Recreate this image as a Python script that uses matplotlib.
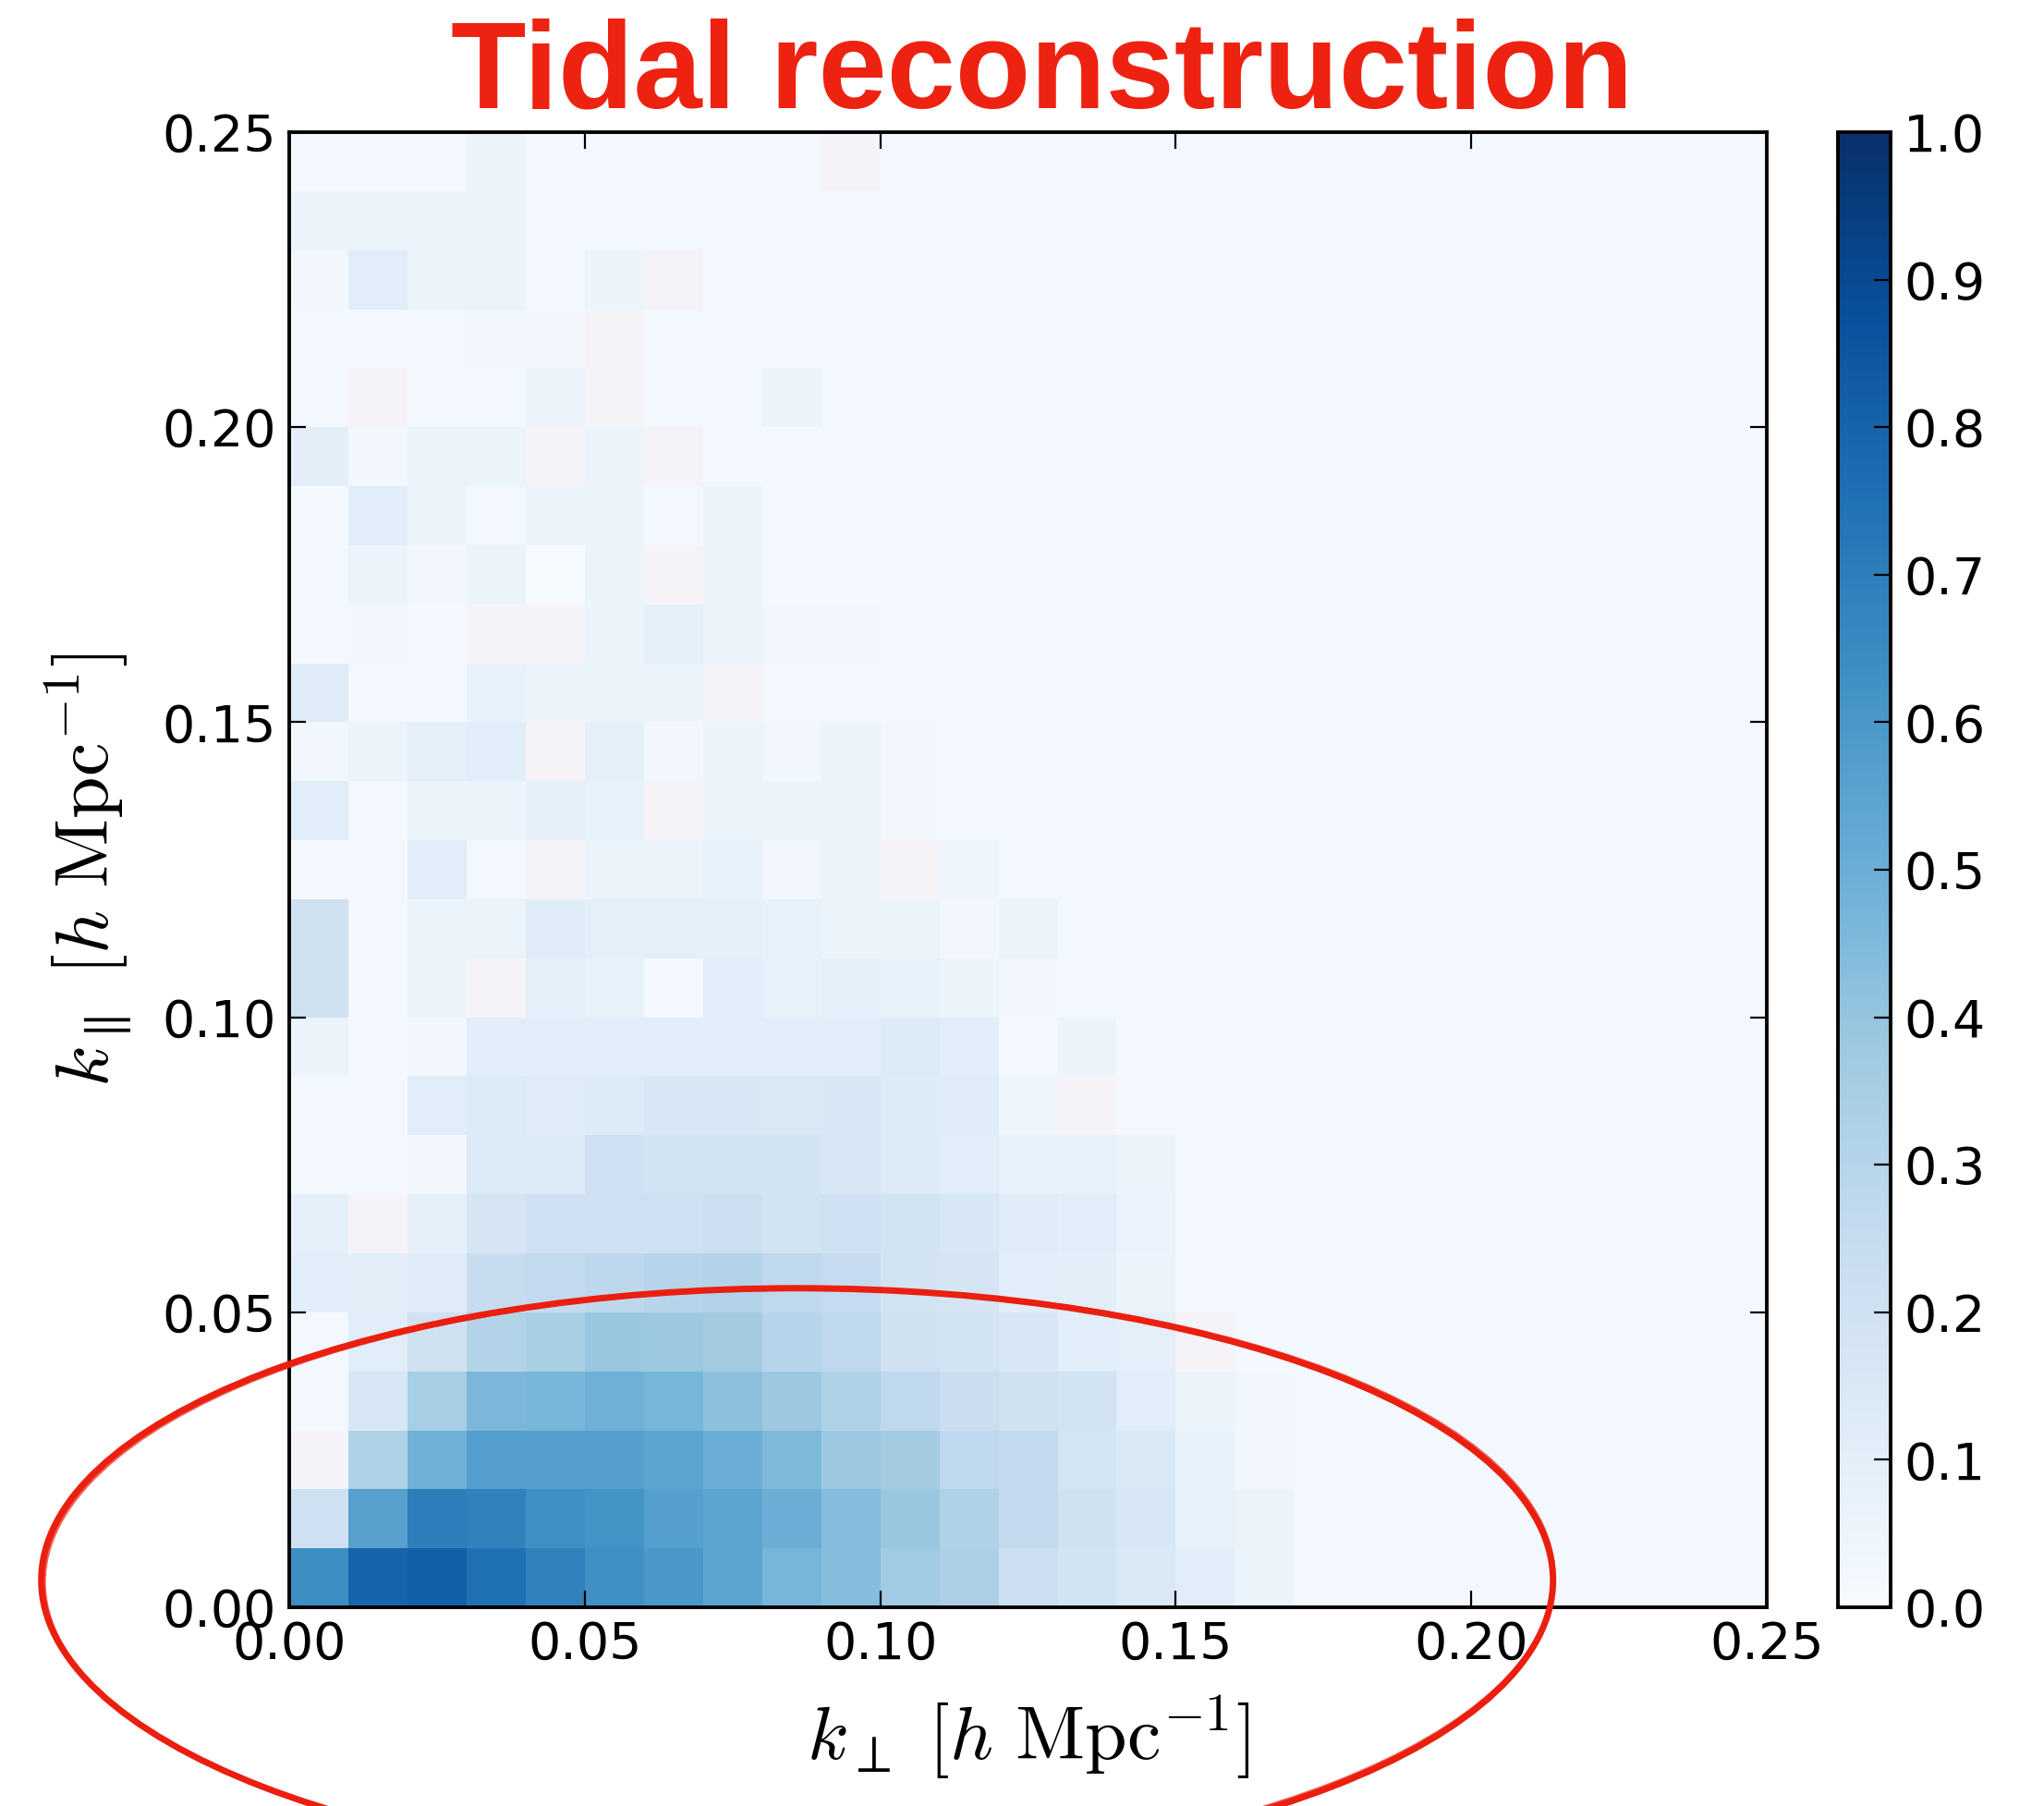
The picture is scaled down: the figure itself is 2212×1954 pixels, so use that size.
import numpy as np
import matplotlib
matplotlib.use('Agg')
import matplotlib.pyplot as plt
from matplotlib.patches import Ellipse

#==========================================
# Datos: correlación por celda (k_par, k_perp).
# Cada fila empieza en k_perp = 0; lo que falta es fondo.
#==========================================

k_bordes = np.arange(0, 0.2501, 0.01)
fondo = 0.02

fila_00 = [0.64, 0.80, 0.82, 0.75, 0.69, 0.63, 0.60, 0.54, 0.47, 0.43, 0.37, 0.33, 0.22, 0.19, 0.15, 0.11, 0.06]
fila_01 = [0.21, 0.56, 0.70, 0.69, 0.63, 0.62, 0.57, 0.54, 0.50, 0.43, 0.39, 0.32, 0.26, 0.20, 0.16, 0.08, 0.06]
fila_02 = [-0.02, 0.32, 0.49, 0.57, 0.57, 0.57, 0.54, 0.50, 0.45, 0.38, 0.36, 0.27, 0.26, 0.18, 0.15, 0.08, 0.03]
fila_03 = [0.02, 0.16, 0.35, 0.46, 0.47, 0.49, 0.47, 0.42, 0.38, 0.32, 0.27, 0.23, 0.20, 0.19, 0.11, 0.06, 0.03]
fila_04 = [0.02, 0.11, 0.20, 0.31, 0.34, 0.39, 0.38, 0.36, 0.30, 0.27, 0.20, 0.19, 0.16, 0.11, 0.09, -0.02]
fila_05 = [0.11, 0.10, 0.12, 0.24, 0.26, 0.28, 0.30, 0.31, 0.27, 0.25, 0.19, 0.17, 0.11, 0.10, 0.06]
fila_06 = [0.09, -0.02, 0.09, 0.17, 0.21, 0.21, 0.21, 0.22, 0.19, 0.21, 0.19, 0.16, 0.12, 0.11, 0.07]
fila_07 = [0.02, 0.02, 0.03, 0.14, 0.14, 0.21, 0.19, 0.19, 0.19, 0.16, 0.13, 0.11, 0.08, 0.08, 0.06]
fila_08 = [0.02, 0.02, 0.11, 0.14, 0.12, 0.13, 0.16, 0.16, 0.15, 0.16, 0.13, 0.12, 0.05, -0.02]
fila_09 = [0.06, 0.02, 0.03, 0.11, 0.11, 0.11, 0.11, 0.11, 0.11, 0.11, 0.14, 0.11, 0.02, 0.06]
fila_10 = [0.20, 0.02, 0.06, -0.02, 0.09, 0.08, 0.02, 0.11, 0.08, 0.09, 0.08, 0.06, 0.03]
fila_11 = [0.20, 0.02, 0.06, 0.06, 0.12, 0.09, 0.09, 0.09, 0.08, 0.06, 0.06, 0.03, 0.06]
fila_12 = [0.02, 0.02, 0.11, 0.02, -0.02, 0.06, 0.06, 0.08, 0.03, 0.06, -0.02, 0.05]
fila_13 = [0.11, 0.02, 0.06, 0.06, 0.09, 0.08, -0.02, 0.06, 0.06, 0.06, 0.03]
fila_14 = [0.03, 0.06, 0.09, 0.11, -0.02, 0.09, 0.03, 0.06, 0.03, 0.06, 0.03]
fila_15 = [0.12, 0.02, 0.02, 0.08, 0.06, 0.06, 0.06, -0.02]
fila_16 = [0.02, 0.03, 0.02, -0.02, -0.02, 0.06, 0.09, 0.06, 0.03, 0.03]
fila_17 = [0.02, 0.06, 0.03, 0.06, 0.01, 0.06, -0.02, 0.06]
fila_18 = [0.02, 0.11, 0.06, 0.02, 0.06, 0.06, 0.02, 0.06]
fila_19 = [0.10, 0.03, 0.06, 0.06, -0.02, 0.06, -0.02]
fila_20 = [0.02, -0.02, 0.02, 0.02, 0.06, -0.02, 0.02, 0.02, 0.06]
fila_21 = [0.02, 0.02, 0.02, 0.03, 0.03, -0.02]
fila_22 = [0.03, 0.11, 0.06, 0.06, 0.02, 0.06, -0.02]
fila_23 = [0.06, 0.06, 0.06, 0.06]
fila_24 = [0.02, 0.02, 0.02, 0.06, 0.02, 0.02, 0.02, 0.02, 0.02, -0.02]

filas = [fila_00, fila_01, fila_02, fila_03, fila_04, fila_05, fila_06, fila_07,
         fila_08, fila_09, fila_10, fila_11, fila_12, fila_13, fila_14, fila_15,
         fila_16, fila_17, fila_18, fila_19, fila_20, fila_21, fila_22, fila_23, fila_24]

cb_ticks = [0.0, 0.1, 0.2, 0.3, 0.4, 0.5, 0.6, 0.7, 0.8, 0.9, 1.0]
ejes_ticks = [0.00, 0.05, 0.10, 0.15, 0.20, 0.25]

#==================
# Matriz completa.
#==================

n = len(k_bordes) - 1
correlacion = np.full((n, n), fondo)
for i, fila in enumerate(filas):
    correlacion[i, :len(fila)] = fila

#==========
# Gráfica.
#==========

plt.rcParams['mathtext.fontset'] = 'cm'
plt.rcParams['font.family'] = 'DejaVu Sans'

fig = plt.figure(figsize=(22.12, 19.54), dpi=100)
ax = fig.add_axes([0.1415, 0.110, 0.7229, 0.8168])
cax = fig.add_axes([0.899, 0.110, 0.026, 0.8168])

cmap = plt.get_cmap('Blues').copy()
cmap.set_under('#f6f3f8')

malla = ax.pcolormesh(k_bordes, k_bordes, correlacion, cmap=cmap, vmin=0, vmax=1)
ax.set_xlim(0, 0.25)
ax.set_ylim(0, 0.25)
ax.set_xticks(ejes_ticks)
ax.set_yticks(ejes_ticks)
ax.set_xticklabels(['%.2f' % t for t in ejes_ticks])
ax.set_yticklabels(['%.2f' % t for t in ejes_ticks])
ax.tick_params(direction='in', length=13, width=1.6, labelsize=40, pad=10,
               top=True, right=True)
for s in ax.spines.values():
    s.set_linewidth(2.8)

ax.set_xlabel(r'$k_\perp\ [h\ \mathrm{Mpc}^{-1}]$', fontsize=59, labelpad=18)
ax.set_ylabel(r'$k_\parallel\ [h\ \mathrm{Mpc}^{-1}]$', fontsize=59, labelpad=22)

cb = fig.colorbar(malla, cax=cax, ticks=cb_ticks)
cb.ax.set_yticklabels(['%.1f' % t for t in cb_ticks])
cb.ax.tick_params(direction='in', length=13, width=1.6, labelsize=40, pad=10)
cb.outline.set_linewidth(2.8)

#==========================
# Título y elipse a mano.
#==========================

fig.text(0.51, 0.9406, 'Tidal reconstruction', color='#ee2211', fontsize=96,
         fontweight='bold', family='Liberation Sans', ha='center', va='baseline')

elipse = Ellipse((0.390, 0.125), 0.7396, 0.3234, transform=fig.transFigure,
                 fill=False, edgecolor='#ea1f10', linewidth=5.0, clip_on=False)
fig.add_artist(elipse)
elipse2 = Ellipse((0.391, 0.1255), 0.7386, 0.3224, angle=0.3, transform=fig.transFigure,
                  fill=False, edgecolor='#ea1f10', linewidth=2.5, alpha=0.7, clip_on=False)
fig.add_artist(elipse2)

fig.savefig('out.png', dpi=100)
